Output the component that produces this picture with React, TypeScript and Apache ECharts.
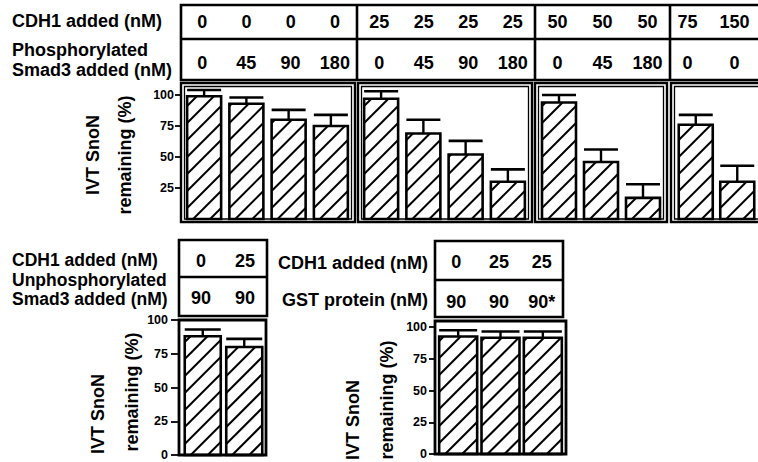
import React, { useEffect, useRef } from 'react';
import * as echarts from 'echarts';

const FONT = '"Liberation Sans", Arial, Helvetica, sans-serif';

// ---- Top panel: CDH1 + phosphorylated Smad3 (four groups) ----
const topCdh1 = [[0, 0, 0, 0], [25, 25, 25, 25], [50, 50, 50], [75, 150]];
const topSmad3 = [[0, 45, 90, 180], [0, 45, 90, 180], [0, 45, 180], [0, 0]];
const topSnon = [[99, 93, 80, 75], [97, 69, 52, 30], [94, 46, 17], [76, 30]];
const topErr = [[5, 5, 8, 9], [6, 11, 11, 10], [6, 10, 11], [8, 13]];

// ---- Bottom left: CDH1 + unphosphorylated Smad3 ----
const unphosCdh1 = [0, 25];
const unphosSmad3 = [90, 90];
const unphosSnon = [88, 80];
const unphosErr = [5, 6];

// ---- Bottom right: CDH1 + GST protein ----
const gstCdh1 = [0, 25, 25];
const gstProtein = ['90', '90', '90*'];
const gstSnon = [92.5, 91.5, 91.5];
const gstErr = [5, 5, 5];

const topTicks = [25, 50, 75, 100];
const bottomTicks = [0, 25, 50, 75, 100];

function makeRender(barW: number) {
  return (params: any, api: any) => {
    const i = api.value(0);
    const v = api.value(1);
    const e = api.value(2);
    const top = api.coord([i, v]);
    const base = api.coord([i, 0]);
    const errP = api.coord([i, v + e]);
    const cx = top[0];
    const x0 = cx - barW / 2;
    const x1 = cx + barW / 2;
    const y0 = top[1];
    const y1 = base[1];
    const children: any[] = [];
    children.push({
      type: 'rect',
      shape: { x: x0, y: y0, width: barW, height: y1 - y0 },
      style: { fill: '#fff', stroke: 'none' },
    });
    const d = 17;
    const c0 = x0 + y1 + 6;
    const nMin = Math.ceil((x0 + y0 - c0) / d);
    const nMax = Math.floor((x1 + y1 - c0) / d);
    for (let n = nMin; n <= nMax; n++) {
      const c = c0 + n * d;
      const xa = Math.max(x0, c - y1);
      const xb = Math.min(x1, c - y0);
      if (xb - xa < 0.5) continue;
      children.push({
        type: 'line',
        shape: { x1: xa, y1: c - xa, x2: xb, y2: c - xb },
        style: { stroke: '#000', lineWidth: 2 },
      });
    }
    children.push({
      type: 'rect',
      shape: { x: x0, y: y0, width: barW, height: y1 - y0 },
      style: { fill: 'none', stroke: '#000', lineWidth: 2.6 },
    });
    children.push({
      type: 'line',
      shape: { x1: cx, y1: y0, x2: cx, y2: errP[1] },
      style: { stroke: '#000', lineWidth: 2.4 },
    });
    children.push({
      type: 'line',
      shape: { x1: x0, y1: errP[1], x2: x1, y2: errP[1] },
      style: { stroke: '#000', lineWidth: 2.6 },
    });
    return { type: 'group', children };
  };
}

export default function App() {
  const ref = useRef<HTMLDivElement>(null);

  useEffect(() => {
    if (!ref.current) return;
    const chart = echarts.init(ref.current, undefined, { renderer: 'svg' });

    const grids: any[] = [];
    const xAxes: any[] = [];
    const yAxes: any[] = [];
    const series: any[] = [];

    const labelStyle = { fontFamily: FONT, fontWeight: 'bold', color: '#000' };

    function addBarPanel(rect: any, cdh1: any[], smad: any[], values: number[], errs: number[], barW: number, yCfg: any) {
      const gi = grids.length;
      grids.push({ left: rect.left, top: rect.top, width: rect.width, height: rect.height });
      xAxes.push({
        type: 'category', gridIndex: gi, show: false, boundaryGap: true,
        data: values.map((_, i) => `${cdh1[i]}/${smad[i]}`),
      });
      yAxes.push(Object.assign({
        type: 'value', gridIndex: gi, min: 0, max: 100, interval: 25, splitLine: { show: false },
      }, yCfg));
      series.push({
        type: 'custom', xAxisIndex: xAxes.length - 1, yAxisIndex: yAxes.length - 1,
        coordinateSystem: 'cartesian2d', clip: false, silent: true,
        renderItem: makeRender(barW), encode: { x: 0, y: 1 },
        data: values.map((v, i) => [i, v, errs[i]]),
      });
    }

    function addTable(rect: any, row1: any[], row2: any[]) {
      const gi = grids.length;
      grids.push({ left: rect.left, top: rect.top, width: rect.width, height: rect.height });
      yAxes.push({ type: 'value', gridIndex: gi, show: false, min: 0, max: 1 });
      const common = {
        type: 'category', gridIndex: gi, boundaryGap: true,
        axisLine: { show: false }, axisTick: { show: false }, splitLine: { show: false },
      };
      xAxes.push(Object.assign({}, common, {
        position: 'top', data: row1.map(String),
        axisLabel: Object.assign({ margin: 0, verticalAlign: 'middle', fontSize: 18, interval: 0 }, labelStyle),
      }));
      xAxes.push(Object.assign({}, common, {
        position: 'bottom', data: row2.map(String),
        axisLabel: Object.assign({ margin: 0, verticalAlign: 'middle', fontSize: 18, interval: 0 }, labelStyle),
      }));
    }

    const hiddenY = { show: false };
    const topBarRects = [
      { left: 183, width: 169 },
      { left: 360, width: 169 },
      { left: 538, width: 126 },
      { left: 675, width: 84 },
    ];
    const topTableRects = [
      { left: 180, width: 177 },
      { left: 357, width: 178 },
      { left: 535, width: 135 },
      { left: 664, width: 96 },
    ];

    topBarRects.forEach((r, k) => {
      const yCfg = k === 0 ? {
        show: true, position: 'left', offset: 3,
        axisLine: { show: false },
        axisTick: { show: true, length: 5, customValues: topTicks, lineStyle: { color: '#000', width: 1.8 } },
        axisLabel: Object.assign({ fontSize: 12.5, margin: 6, customValues: topTicks }, labelStyle),
      } : hiddenY;
      addBarPanel({ left: r.left, width: r.width, top: 95, height: 124 }, topCdh1[k], topSmad3[k], topSnon[k], topErr[k], 34, yCfg);
    });
    topTableRects.forEach((r, k) => {
      addTable({ left: r.left, width: r.width, top: 22, height: 41 }, topCdh1[k], topSmad3[k]);
    });

    addBarPanel({ left: 182, width: 83, top: 320, height: 135 }, unphosCdh1, unphosSmad3, unphosSnon, unphosErr, 36, {
      show: true, position: 'left', offset: 3,
      axisLine: { show: false },
      axisTick: { show: true, length: 8, customValues: bottomTicks, lineStyle: { color: '#000', width: 1.8 } },
      axisLabel: Object.assign({ fontSize: 12.5, margin: 11, customValues: bottomTicks }, labelStyle),
    });
    addTable({ left: 179, width: 88, top: 261, height: 37 }, unphosCdh1, unphosSmad3);

    addBarPanel({ left: 437, width: 127, top: 327, height: 127 }, gstCdh1, gstProtein, gstSnon, gstErr, 38, {
      show: true, position: 'left', offset: 2,
      axisLine: { show: false },
      axisTick: { show: true, length: 6, customValues: bottomTicks, lineStyle: { color: '#000', width: 1.8 } },
      axisLabel: Object.assign({ fontSize: 12.5, margin: 8, customValues: bottomTicks }, labelStyle),
    });
    addTable({ left: 435, width: 128, top: 262, height: 40 }, gstCdh1, gstProtein);

    const line = (x1: number, y1: number, x2: number, y2: number, w = 2.6) => ({
      type: 'line', z: 100, shape: { x1, y1, x2, y2 }, style: { stroke: '#000', lineWidth: w },
    });
    const box = (x: number, y: number, x2: number, y2: number, w = 2.6) => ({
      type: 'rect', z: 100, shape: { x, y, width: x2 - x, height: y2 - y }, style: { fill: 'none', stroke: '#000', lineWidth: w },
    });
    const txt = (text: string, x: number, y: number, size: number, align = 'left', rotation = 0) => ({
      type: 'text', z: 100, x, y, rotation,
      style: {
        text, fill: '#000', fontSize: size, fontWeight: 'bold', fontFamily: FONT,
        align, textAlign: align, verticalAlign: 'middle', textVerticalAlign: 'middle',
      },
    });

    const graphic: any[] = [
      // top table
      box(181, 5, 770, 80),
      line(181, 39, 770, 39),
      line(357, 5, 357, 80),
      line(535, 5, 535, 80),
      line(670, 5, 670, 80),
      // top panels (double frames)
      box(181, 83, 355, 222, 2.4), box(184.5, 86.5, 351.5, 219, 1.3),
      box(358, 83, 532, 222, 2.4), box(361.5, 86.5, 528.5, 219, 1.3),
      box(535, 83, 667, 222, 2.4), box(538.5, 86.5, 663.5, 219, 1.3),
      box(671, 83, 775, 222, 2.4), box(674.5, 86.5, 775, 219, 1.3),
      // bottom-left table + frame
      box(179, 240, 267, 316),
      line(179, 277, 267, 277),
      box(179, 320, 266, 455, 2.8),
      // bottom-right table + frame
      box(435, 241, 563, 317),
      line(435, 280, 563, 280),
      box(435, 321, 566, 454, 2.8),
      // labels
      txt('CDH1 added (nM)', 12, 21, 18),
      txt('Phosphorylated', 12, 50, 18),
      txt('Smad3 added (nM)', 12, 70, 18),
      txt('IVT SnoN', 93, 155, 18, 'center', Math.PI / 2),
      txt('remaining (%)', 125, 155, 18, 'center', Math.PI / 2),
      txt('CDH1 added (nM)', 12, 260, 17.5),
      txt('Unphosphorylated', 12, 280, 17.5),
      txt('Smad3 added (nM)', 12, 299, 17.5),
      txt('IVT SnoN', 98, 414, 18, 'center', Math.PI / 2),
      txt('remaining (%)', 132, 392, 18, 'center', Math.PI / 2),
      txt('CDH1 added (nM)', 428, 263, 18, 'right'),
      txt('GST protein (nM)', 428, 300, 18, 'right'),
      txt('IVT SnoN', 353, 420, 18, 'center', Math.PI / 2),
      txt('remaining (%)', 387, 400, 18, 'center', Math.PI / 2),
    ];

    chart.setOption({
      animation: false,
      backgroundColor: '#fff',
      grid: grids,
      xAxis: xAxes,
      yAxis: yAxes,
      series,
      graphic,
    });

    return () => chart.dispose();
  }, []);

  return (
    <div
      ref={ref}
      style={{ position: 'fixed', left: 0, top: 0, width: 758, height: 462, background: '#fff' }}
    />
  );
}
